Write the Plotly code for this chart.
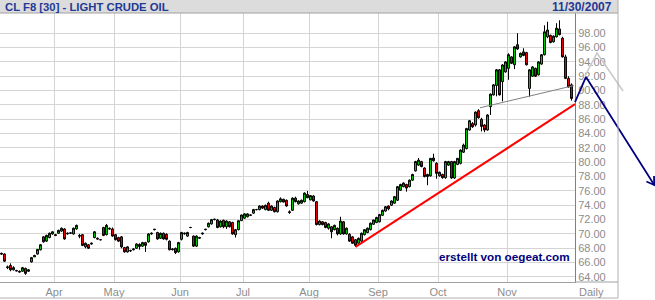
import plotly.graph_objects as go

# ---------------- data ----------------
MONTHS = ["Mar", "Apr", "May", "Jun", "Jul", "Aug", "Sep", "Oct", "Nov"]
MONTH_DAYS = [18, 20, 22, 21, 22, 23, 20, 23, 22]   # trading days shown per month

OPEN = [
    67.3, 67.2, 65.3, 65.6, 65.0, 64.9, 64.8, 64.8, 65.2, 64.8,
    66.1, 66.8, 67.2, 67.8, 69.6, 69.0, 69.5, 70.0, 69.9, 70.1,
    70.4, 70.7, 70.0, 70.1, 70.0, 70.7, 69.8, 69.9, 68.2, 68.5,
    68.6, 69.5, 69.4, 69.2, 70.9, 69.9, 70.8, 70.7, 69.9, 69.5,
    69.6, 68.1, 67.5, 67.7, 67.8, 68.0, 68.55, 68.3, 68.8, 68.9,
    70.0, 70.6, 70.2, 69.4, 70.1, 69.95, 69.0, 67.8, 68.0, 67.5,
    69.25, 70.0, 69.7, 70.9, 69.7, 68.3, 69.4, 70.0, 70.6, 71.0,
    71.4, 72.0, 71.95, 71.0, 71.9, 71.0, 71.7, 71.6, 69.9, 70.6,
    71.85, 72.2, 72.4, 72.6, 72.9, 73.4, 73.4, 73.9, 73.4, 74.3,
    73.3, 73.7, 73.1, 74.5, 74.85, 74.7, 73.1, 73.3, 75.0, 74.2,
    74.3, 74.5, 75.5, 74.75, 75.3, 74.5, 71.3, 71.7, 71.6, 70.8,
    71.0, 70.6, 70.8, 70.0, 71.7, 70.0, 69.95, 69.6, 69.2, 68.7,
    69.0, 69.9, 70.2, 70.6, 71.35, 71.6, 71.7, 72.6, 73.2, 73.9,
    74.0, 74.3, 74.7, 76.1, 76.6, 76.9, 76.6, 77.5, 78.8, 79.6,
    80.1, 79.2, 78.0, 78.1, 80.6, 79.85, 78.1, 78.3, 77.85, 79.6,
    80.1, 77.8, 79.7, 79.85, 81.4, 81.9, 84.5, 85.4, 85.2, 87.2,
    86.0, 85.2, 84.5, 87.75, 89.4, 90.7, 92.9, 91.24, 92.6, 93.1,
    94.7, 93.6, 96.4, 94.7, 95.4, 95.3, 90.3, 92.0, 93.1, 92.2,
    93.7, 95.0, 97.5, 97.7, 96.8, 97.5, 98.6, 97.3, 94.7, 91.7, 90.8,
]
HIGH = [
    67.4, 67.3, 65.6, 65.9, 65.5, 65.0, 64.9, 65.4, 65.3, 65.1,
    66.8, 67.1, 67.9, 68.6, 69.7, 69.9, 70.2, 70.4, 70.0, 70.6,
    70.9, 70.8, 70.2, 70.2, 70.9, 71.3, 70.0, 70.0, 68.8, 68.6,
    68.8, 70.4, 69.5, 69.3, 71.0, 71.4, 70.9, 70.9, 70.0, 69.6,
    69.7, 68.2, 68.3, 67.8, 68.0, 68.7, 68.7, 68.9, 68.9, 70.1,
    70.2, 70.7, 70.3, 70.2, 70.2, 70.1, 69.1, 68.0, 68.1, 68.9,
    70.3, 70.2, 70.3, 71.0, 69.8, 69.8, 69.6, 70.2, 70.7, 71.6,
    72.1, 72.1, 72.1, 71.9, 72.0, 71.9, 71.8, 71.7, 70.7, 71.9,
    72.7, 72.9, 72.9, 72.7, 73.5, 73.5, 74.0, 74.0, 74.1, 74.5,
    74.0, 73.8, 74.7, 75.1, 74.9, 74.8, 73.3, 75.1, 75.2, 74.7,
    74.8, 75.8, 76.0, 75.4, 75.4, 74.6, 71.9, 71.8, 71.7, 71.5,
    71.1, 71.3, 70.9, 72.4, 71.8, 70.9, 70.1, 69.7, 69.3, 69.5,
    70.2, 70.7, 70.9, 71.6, 72.0, 72.4, 72.8, 73.4, 73.9, 74.0,
    74.7, 75.3, 76.7, 77.0, 77.2, 77.0, 77.6, 78.4, 80.2, 80.6,
    80.2, 79.3, 78.4, 80.6, 81.2, 80.0, 78.7, 78.4, 80.2, 80.2,
    80.2, 80.2, 80.6, 81.8, 82.6, 84.8, 85.9, 85.6, 87.1, 87.4,
    86.2, 85.3, 86.7, 89.6, 90.9, 93.0, 93.0, 93.7, 94.1, 95.2,
    94.8, 96.2, 98.0, 95.3, 95.9, 95.4, 93.0, 93.4, 93.2, 94.1,
    95.1, 99.1, 99.6, 97.8, 97.7, 99.4, 99.8, 97.5, 95.0, 92.0, 91.0,
]
LOW = [
    67.1, 66.1, 65.1, 64.8, 64.9, 64.8, 64.6, 64.7, 64.3, 64.7,
    66.0, 66.8, 67.1, 67.7, 68.8, 68.9, 69.4, 69.9, 69.7, 70.0,
    70.3, 69.2, 69.9, 70.0, 69.9, 70.6, 69.4, 68.3, 68.0, 67.9,
    68.5, 69.4, 69.2, 69.1, 69.7, 69.8, 70.6, 69.6, 69.1, 68.9,
    68.0, 67.4, 67.4, 67.5, 67.7, 67.9, 67.8, 68.2, 67.5, 68.8,
    69.9, 70.5, 69.2, 69.3, 69.2, 69.1, 67.7, 67.7, 67.2, 67.4,
    69.1, 69.9, 69.6, 70.8, 68.2, 68.2, 69.3, 69.9, 70.5, 70.9,
    71.3, 71.9, 70.8, 70.9, 70.8, 70.7, 70.9, 69.9, 69.5, 70.5,
    71.8, 72.1, 72.3, 72.5, 72.8, 73.3, 73.3, 73.5, 73.3, 73.2,
    73.2, 73.0, 73.0, 74.4, 74.4, 73.8, 72.8, 73.2, 74.4, 74.1,
    74.2, 74.4, 75.0, 74.7, 74.5, 71.2, 71.2, 71.2, 70.8, 70.6,
    69.4, 70.5, 69.8, 69.9, 69.9, 69.9, 68.9, 68.6, 68.2, 68.6,
    68.9, 69.8, 70.1, 70.5, 71.3, 71.5, 71.6, 72.5, 73.1, 73.3,
    73.9, 74.2, 74.6, 76.0, 76.5, 75.9, 76.5, 77.4, 78.7, 79.5,
    79.3, 77.9, 76.8, 78.0, 80.1, 77.7, 78.0, 77.7, 77.7, 79.5,
    77.7, 77.7, 79.6, 79.7, 81.3, 81.8, 84.4, 84.8, 85.0, 86.1,
    84.3, 84.2, 84.4, 86.6, 89.3, 89.2, 89.3, 88.5, 92.5, 91.5,
    93.7, 93.0, 95.7, 94.6, 94.8, 93.5, 89.15, 91.9, 91.9, 92.1,
    93.6, 94.9, 97.3, 96.6, 96.7, 97.4, 97.7, 94.6, 91.6, 90.4, 88.6,
]
CLOSE = [
    67.2, 66.2, 65.4, 65.0, 65.3, 64.85, 64.7, 65.3, 64.5, 65.0,
    66.7, 67.0, 67.85, 68.5, 68.9, 69.8, 70.1, 70.3, 69.8, 70.5,
    70.8, 69.3, 70.1, 70.15, 70.8, 71.2, 69.7, 68.4, 68.7, 68.0,
    68.7, 70.3, 69.3, 69.2, 69.8, 71.2, 70.7, 69.7, 69.2, 69.0,
    68.2, 67.5, 68.2, 67.65, 67.9, 68.6, 68.25, 68.8, 68.4, 70.0,
    70.1, 70.65, 69.3, 70.1, 69.3, 69.25, 67.8, 67.9, 67.4, 68.8,
    70.2, 70.1, 70.2, 70.9, 68.3, 69.7, 69.5, 70.1, 70.65, 71.5,
    72.0, 72.05, 70.9, 71.8, 71.0, 71.8, 71.0, 70.0, 70.6, 71.85,
    72.65, 72.8, 72.8, 72.65, 73.4, 73.4, 73.9, 73.6, 74.0, 73.3,
    73.9, 73.1, 74.6, 74.9, 74.45, 73.9, 73.0, 75.0, 74.5, 74.6,
    74.7, 75.7, 75.05, 75.35, 74.6, 71.3, 71.8, 71.3, 70.9, 71.4,
    70.3, 71.2, 70.0, 71.8, 70.0, 70.8, 69.0, 68.7, 68.4, 69.4,
    70.1, 70.6, 70.8, 71.5, 71.95, 72.3, 72.7, 73.3, 73.8, 73.5,
    74.6, 75.2, 76.6, 76.9, 77.1, 76.4, 77.5, 78.3, 80.1, 80.3,
    79.4, 78.0, 78.3, 80.55, 80.2, 78.45, 78.6, 77.85, 80.1, 80.1,
    77.8, 80.1, 80.55, 81.7, 82.4, 84.7, 85.8, 84.95, 87.0, 86.2,
    85.0, 84.5, 86.6, 89.5, 90.8, 92.9, 89.4, 93.57, 94.0, 95.0,
    93.8, 96.1, 95.8, 95.2, 94.9, 93.6, 92.9, 93.3, 92.0, 94.0,
    95.0, 98.2, 98.45, 96.7, 97.6, 98.7, 97.8, 94.7, 91.7, 90.5, 88.9,
]

Y_TICKS = [64, 66, 68, 70, 72, 74, 76, 78, 80, 82, 84, 86, 88, 90, 92, 94, 96, 98]

# hand-drawn analysis lines, in (day index, price)
SUPPORT_X = [118, 191.17]
SUPPORT_Y = [68.2, 88.1]
NECK_X = [159.5, 190.8]
NECK_Y = [87.6, 90.7]
PROJ_X = [191.17, 194.83, 217.6]
PROJ_Y = [88.4, 91.9, 76.83]
HEAD_X = [214.97, 217.6, 217.5]
HEAD_Y = [77.32, 76.83, 78.09]
ALT_X = [194.5, 198.5, 207.17]
ALT_Y = [92.03, 95.24, 89.94]

TITLE = "CL F8 [30] - LIGHT CRUDE OIL"
DATE = "11/30/2007"
WATERMARK = "erstellt von oegeat.com"
PERIOD = "Daily"

# ---------------- layout constants (pixels) ----------------
W, H = 655, 300
PLOT_R, PLOT_T, PLOT_B = 575, 13, 282
FRAME_R, FRAME_B = 618, 298
PX_PER_DAY = 3.0
X0 = -0.5
YR = [63.30, 100.82]
FONT = "Liberation Sans, Arial, sans-serif"
LABEL_GRAY = "#8C8C8C"
GRID = "#D4D4D4"


def px(x):
    return x / W


def py(y):
    return 1 - y / H


x_dom = [0, PLOT_R / W]
y_dom = [(H - PLOT_B) / H, (H - PLOT_T) / H]
XR = [X0, X0 + PLOT_R / PX_PER_DAY]
X2R = [X0, X0 + W / PX_PER_DAY]
k = (YR[1] - YR[0]) / (y_dom[1] - y_dom[0])
Y2R = [YR[0] - y_dom[0] * k, YR[1] + (1 - y_dom[1]) * k]

idx = list(range(len(CLOSE)))
starts = []
s = 0
for d in MONTH_DAYS:
    starts.append(s)
    s += d
month_ticks = [st - 0.5 for st in starts[1:]]
month_text = MONTHS[1:]

fig = go.Figure()
fig.add_trace(go.Candlestick(
    x=idx, open=OPEN, high=HIGH, low=LOW, close=CLOSE,
    increasing=dict(line=dict(color="black", width=1), fillcolor="#00E000"),
    decreasing=dict(line=dict(color="black", width=1), fillcolor="#FF0000"),
    whiskerwidth=0, showlegend=False, hoverinfo="skip",
))


def add_line(xs, ys, color, width):
    fig.add_trace(go.Scatter(x=xs, y=ys, xaxis="x2", yaxis="y2", mode="lines",
                             line=dict(color=color, width=width),
                             showlegend=False, hoverinfo="skip"))


add_line(NECK_X, NECK_Y, "#808080", 1)
add_line(SUPPORT_X, SUPPORT_Y, "#FF0000", 2)
add_line(ALT_X, ALT_Y, "#C8C8C8", 1.5)
add_line(PROJ_X, PROJ_Y, "#000080", 1.8)
add_line(HEAD_X, HEAD_Y, "#000080", 1.8)

shapes = [
    dict(type="rect", xref="paper", yref="paper", x0=0, x1=px(FRAME_R), y0=py(PLOT_T), y1=1,
         fillcolor="#DCDCDC", line=dict(width=0), layer="below"),
    dict(type="line", xref="paper", yref="paper", x0=0, x1=px(FRAME_R), y0=py(PLOT_T), y1=py(PLOT_T),
         line=dict(color="#A0A0A0", width=1)),
    dict(type="line", xref="paper", yref="paper", x0=px(PLOT_R), x1=px(FRAME_R), y0=py(PLOT_B), y1=py(PLOT_B),
         line=dict(color="#A0A0A0", width=1)),
    dict(type="line", xref="paper", yref="paper", x0=px(FRAME_R), x1=px(FRAME_R), y0=py(FRAME_B), y1=1,
         line=dict(color="#B0B0B0", width=1)),
    dict(type="line", xref="paper", yref="paper", x0=0, x1=px(FRAME_R), y0=py(FRAME_B), y1=py(FRAME_B),
         line=dict(color="#B0B0B0", width=1)),
]

annotations = [
    dict(text="<b>" + TITLE + "</b>", xref="paper", yref="paper", x=px(3), y=py(6.5),
         xanchor="left", yanchor="middle", showarrow=False,
         font=dict(family=FONT, size=11.3, color="#1F3A96")),
    dict(text="<b>" + DATE + "</b>", xref="paper", yref="paper", x=px(614), y=py(6.5),
         xanchor="right", yanchor="middle", showarrow=False,
         font=dict(family=FONT, size=12, color="#1F3A96")),
    dict(text="<b>" + WATERMARK + "</b>", xref="paper", yref="paper", x=px(504), y=py(256),
         xanchor="center", yanchor="middle", showarrow=False,
         font=dict(family=FONT, size=11.7, color="#000080")),
    dict(text=PERIOD, xref="paper", yref="paper", x=px(591), y=py(292),
         xanchor="center", yanchor="middle", showarrow=False,
         font=dict(family=FONT, size=11, color=LABEL_GRAY)),
]

fig.update_layout(
    width=W, height=H, autosize=False,
    margin=dict(l=0, r=0, t=0, b=0, pad=0),
    paper_bgcolor="white", plot_bgcolor="rgba(0,0,0,0)",
    showlegend=False, font=dict(family=FONT),
    boxgap=0.1,
    xaxis=dict(domain=x_dom, range=XR, tickmode="array", tickvals=month_ticks, ticktext=month_text,
               showgrid=True, gridcolor=GRID, gridwidth=1, zeroline=False,
               showline=True, linecolor="#A0A0A0", linewidth=1, ticks="",
               tickfont=dict(family=FONT, size=11, color=LABEL_GRAY),
               rangeslider=dict(visible=False), fixedrange=True, automargin=False),
    yaxis=dict(domain=y_dom, range=YR, side="right", tickmode="array", tickvals=Y_TICKS,
               ticktext=[f"{v:.2f}" for v in Y_TICKS],
               showgrid=True, gridcolor=GRID, gridwidth=1, zeroline=False,
               showline=True, linecolor="#808080", linewidth=1, ticks="",
               tickfont=dict(family=FONT, size=11, color=LABEL_GRAY),
               fixedrange=True, automargin=False),
    xaxis2=dict(domain=[0, 1], range=X2R, visible=False, anchor="y2", fixedrange=True),
    yaxis2=dict(domain=[0, 1], range=Y2R, visible=False, anchor="x2", fixedrange=True),
    shapes=shapes, annotations=annotations,
)

fig.write_html("out.html")
